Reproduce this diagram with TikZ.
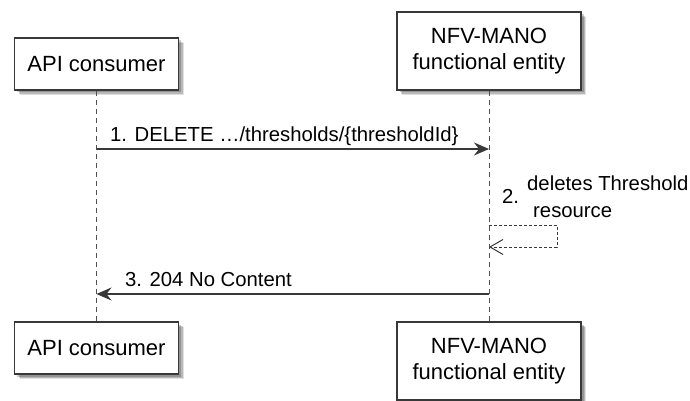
\documentclass[tikz,border=0pt]{standalone}
\usepackage{fontspec}
\setmainfont{Liberation Sans}
\usetikzlibrary{arrows.meta,shadows}
\definecolor{edge}{HTML}{383838}
\definecolor{lifeln}{HTML}{505050}
\tikzset{
  partbox/.style={draw=edge, line width=1.4pt, fill=white, inner sep=0pt,
    font=\fontsize{22}{26}\selectfont, align=center,
    drop shadow={shadow xshift=5pt,shadow yshift=-5pt,opacity=0.12,fill=black},
    drop shadow={shadow xshift=4pt,shadow yshift=-4pt,opacity=0.18,fill=black},
    drop shadow={shadow xshift=2.5pt,shadow yshift=-2.5pt,opacity=0.2,fill=black}},
  lifeline/.style={draw=lifeln, line width=1pt, dash pattern=on 5pt off 4pt},
  msg/.style={draw=edge, line width=1.3pt, -{Stealth[length=15pt,width=13pt,inset=5pt]}},
  selfmsg/.style={draw=edge, line width=1pt, dash pattern=on 3pt off 2pt,
    -{Straight Barb[length=13pt,width=15pt,line width=1pt]}},
  lbl/.style={inner sep=0pt, anchor=base west, font=\fontsize{20.3}{26}\selectfont}
}
\begin{document}
\begin{tikzpicture}[x=1pt,y=-1pt]
\useasboundingbox (0,0) rectangle (690,401);
% participants
\node[partbox, minimum width=164pt, minimum height=52pt] (apiTop) at (96.5,64) {API consumer};
\node[partbox, minimum width=184pt, minimum height=78pt] (nfvTop) at (489,51) {NFV-MANO\\functional entity};
\node[partbox, minimum width=164pt, minimum height=52pt] (apiBot) at (96.5,348) {API consumer};
\node[partbox, minimum width=184pt, minimum height=78pt] (nfvBot) at (489,361) {NFV-MANO\\functional entity};
% lifelines
\draw[lifeline] (apiTop.south) -- (apiBot.north);
\draw[lifeline] (nfvTop.south) -- (nfvBot.north);
% message anchor points
\coordinate (m1a) at (apiTop.south |- 0,149);
\coordinate (m1b) at (nfvTop.south |- 0,149);
\coordinate (s0) at (nfvTop.south |- 0,225);
\coordinate (s1) at (557,225);
\coordinate (s2) at (557,247);
\coordinate (s3) at (nfvTop.south |- 0,247);
\coordinate (m3a) at (nfvTop.south |- 0,294);
\coordinate (m3b) at (apiTop.south |- 0,294);
% 1
\draw[msg] (m1a) -- (m1b);
\node[lbl] (l1) at (110,141) {1. DELETE …/thresholds/\{thresholdId\}};
% 2
\draw[selfmsg] (s0) -- (s1) -- (s2) -- (s3);
\node[lbl] (l2n) at (502,203) {2.};
\node[lbl] (l2a) at (527,190) {deletes Threshold};
\node[lbl] (l2b) at (533,217) {resource};
% 3
\draw[msg] (m3a) -- (m3b);
\node[lbl] (l3) at (125,286) {3. 204 No Content};
\end{tikzpicture}
\end{document}
